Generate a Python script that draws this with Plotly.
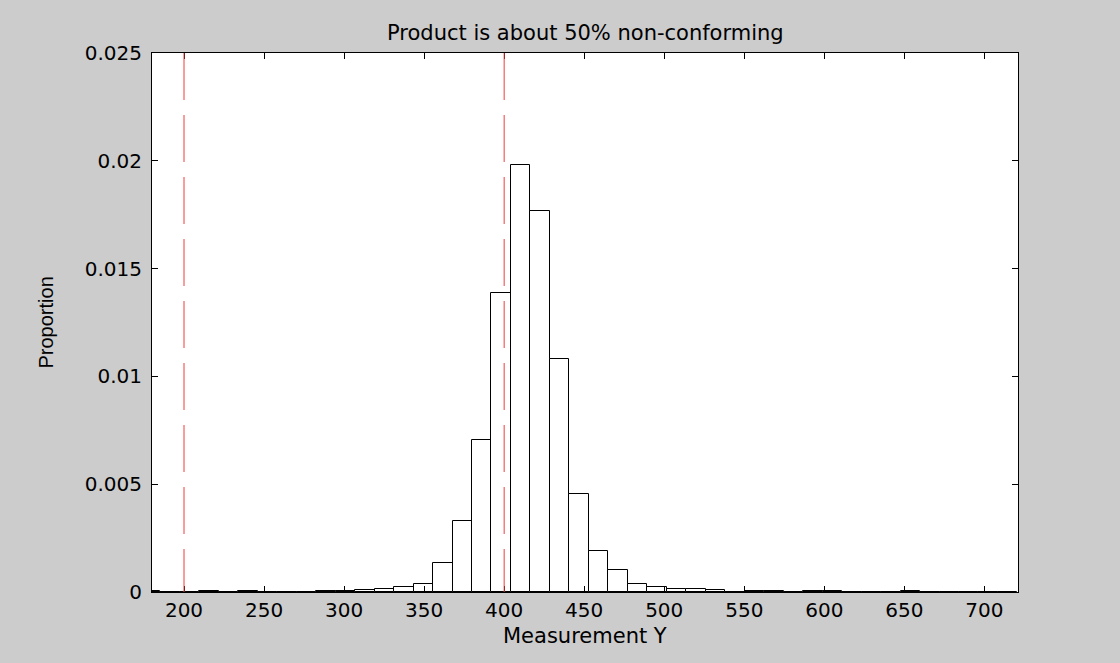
import plotly.graph_objects as go

# Histogram bin centres (bin width ~12.17)
bin_centers = [179.09, 191.26, 203.43, 215.60, 227.77, 239.94, 252.11, 264.28, 276.45,
               288.62, 300.79, 312.96, 325.13, 337.30, 349.47, 361.64, 373.81, 385.98,
               398.15, 410.32, 422.49, 434.66, 446.83, 459.00, 471.17, 483.34, 495.51,
               507.68, 519.85, 532.02, 544.19, 556.36, 568.53, 580.70, 592.87, 605.04,
               617.21, 629.38, 641.55, 653.72, 665.89, 678.06, 690.23, 702.40, 714.57]
bin_width = 12.17
proportions = [0.00004, 0.0, 0.0, 0.00004, 0.0, 0.00004, 0.0, 0.0, 0.0,
               0.00004, 0.00004, 0.00008, 0.00016, 0.00025, 0.00039, 0.00134, 0.00328, 0.00703,
               0.01387, 0.01980, 0.01768, 0.01082, 0.00454, 0.00192, 0.00104, 0.00039, 0.00023,
               0.00016, 0.00016, 0.00008, 0.0, 0.00004, 0.00004, 0.0, 0.00004, 0.00004,
               0.0, 0.0, 0.0, 0.00004, 0.0, 0.0, 0.0, 0.0, 0.0]
spec_limits = [200, 400]
x_ticks = [200, 250, 300, 350, 400, 450, 500, 550, 600, 650, 700]
y_ticks = [0, 0.005, 0.01, 0.015, 0.02, 0.025]
y_tick_text = ["0", "0.005", "0.01", "0.015", "0.02", "0.025"]

FONT = "DejaVu Sans"
fig = go.Figure()
fig.add_trace(go.Bar(x=bin_centers, y=proportions, width=bin_width,
                     marker=dict(color="white", line=dict(color="black", width=1)),
                     showlegend=False, hoverinfo="x+y"))

for s in spec_limits:
    fig.add_shape(type="line", xref="x", yref="paper", x0=s, x1=s, y0=1, y1=0,
                  line=dict(color="rgb(240,60,60)", width=1, dash="47px,15px"))

fig.update_layout(
    width=1120, height=663,
    margin=dict(l=152, r=102, t=53, b=71),
    paper_bgcolor="rgb(204,204,204)", plot_bgcolor="white",
    font=dict(family=FONT, size=20, color="black"),
    bargap=0,
    annotations=[
        dict(text="Product is about 50% non-conforming", xref="paper", yref="paper",
             x=0.5, y=1, yshift=20, xanchor="center", yanchor="middle",
             showarrow=False, font=dict(family=FONT, size=21)),
        dict(text="Measurement Y", xref="paper", yref="paper",
             x=0.5, y=0, yshift=-44, xanchor="center", yanchor="middle",
             showarrow=False, font=dict(family=FONT, size=21)),
        dict(text="Proportion", xref="paper", yref="paper",
             x=0, y=0.5, xshift=-107, xanchor="center", yanchor="middle",
             textangle=-90, showarrow=False,
             font=dict(family="Liberation Sans, Arial", size=20)),
    ],
)
fig.update_xaxes(range=[180, 721], tickvals=x_ticks, ticks="inside", ticklen=6,
                 tickcolor="black", showline=True, linecolor="black", linewidth=1,
                 mirror="ticks", showgrid=False, zeroline=False,
                 tickfont=dict(family=FONT, size=20), ticklabelstandoff=0)
fig.update_yaxes(range=[0, 0.025], tickvals=y_ticks, ticktext=y_tick_text,
                 ticks="inside", ticklen=6, tickcolor="black", showline=True,
                 linecolor="black", linewidth=1, mirror="ticks", showgrid=False,
                 zeroline=False, tickfont=dict(family=FONT, size=20),
                 ticklabelstandoff=5)

fig.write_html("out.html")
